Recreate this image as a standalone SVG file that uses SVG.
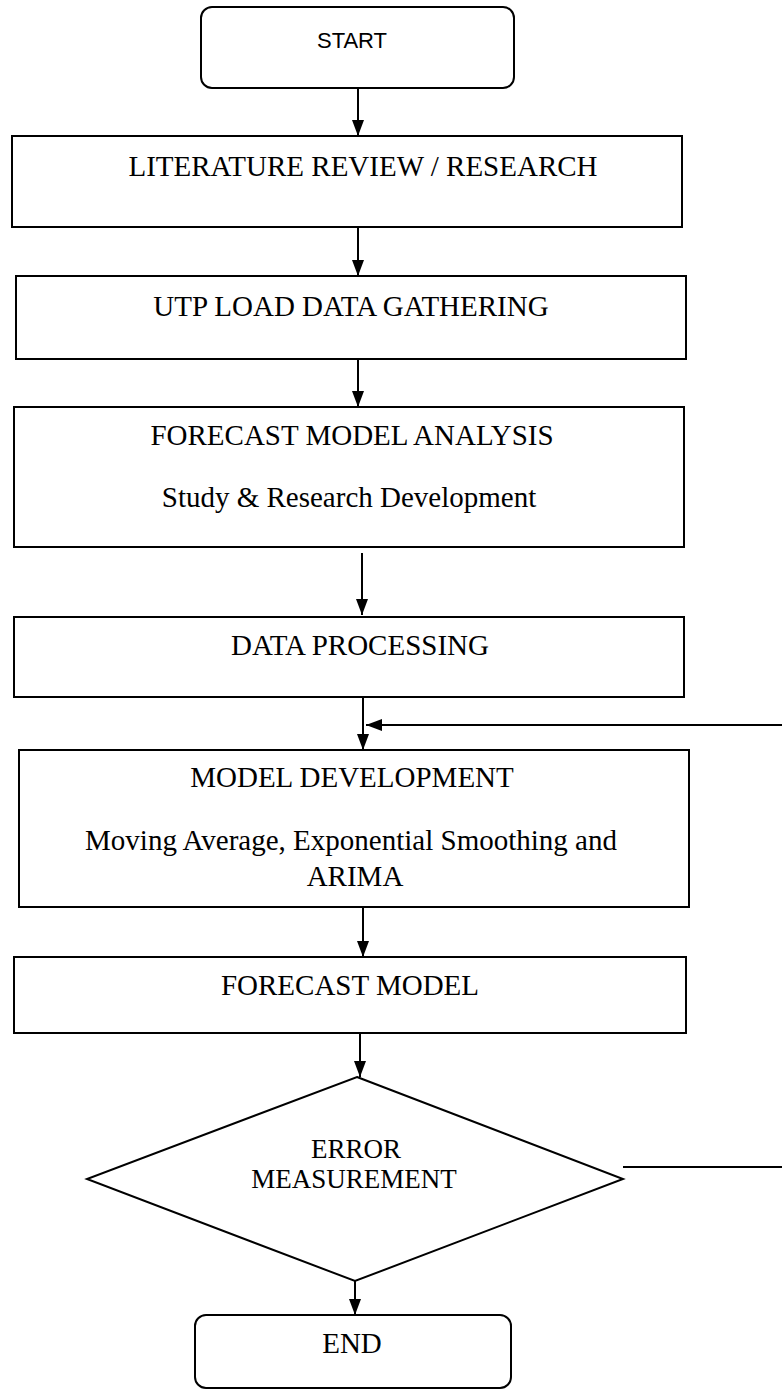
<svg xmlns="http://www.w3.org/2000/svg" width="782" height="1390" viewBox="0 0 782 1390">
<defs>
<style>
.box{fill:#fff;stroke:#000;stroke-width:2}
.t{font-family:"Liberation Serif","Times New Roman",serif;font-size:29px;fill:#000;text-anchor:middle}
.d{font-family:"Liberation Serif","Times New Roman",serif;font-size:27px;fill:#000;text-anchor:middle}
.s{font-family:"Liberation Sans",Arial,sans-serif;font-size:22px;fill:#000;text-anchor:middle}
.c{stroke:#000;stroke-width:2;fill:none}
</style>
<marker id="ah" markerUnits="userSpaceOnUse" markerWidth="16" markerHeight="12" viewBox="0 0 16 12" refX="16" refY="6" orient="auto">
<path d="M0,0 L16,6 L0,12 z" fill="#000"/>
</marker>
</defs>
<rect width="782" height="1390" fill="#fff"/>
<g id="connectors">
<line class="c" x1="358" y1="88" x2="358" y2="136" marker-end="url(#ah)"/>
<line class="c" x1="358" y1="227" x2="358" y2="276" marker-end="url(#ah)"/>
<line class="c" x1="358" y1="359" x2="358" y2="407" marker-end="url(#ah)"/>
<line class="c" x1="362" y1="553" x2="362" y2="615" marker-end="url(#ah)"/>
<line class="c" x1="363" y1="697" x2="363" y2="750" marker-end="url(#ah)"/>
<line class="c" x1="782" y1="725" x2="366" y2="725" marker-end="url(#ah)"/>
<line class="c" x1="363" y1="907" x2="363" y2="957" marker-end="url(#ah)"/>
<line class="c" x1="360" y1="1033" x2="360" y2="1077" marker-end="url(#ah)"/>
<line class="c" x1="355" y1="1281" x2="355" y2="1315" marker-end="url(#ah)"/>
<line class="c" x1="623" y1="1167" x2="782" y2="1167"/>
</g>
<g id="start">
<rect class="box" x="201" y="7" width="313" height="81" rx="11"/>
<text class="s" x="352" y="48">START</text>
</g>
<g id="literature">
<rect class="box" x="12" y="136" width="670" height="91"/>
<text class="t" x="363" y="176">LITERATURE REVIEW / RESEARCH</text>
</g>
<g id="utp">
<rect class="box" x="16" y="276" width="670" height="83"/>
<text class="t" x="351" y="316">UTP LOAD DATA GATHERING</text>
</g>
<g id="fma">
<rect class="box" x="14" y="407" width="670" height="140"/>
<text class="t" x="352" y="445">FORECAST MODEL ANALYSIS</text>
<text class="t" x="349" y="507">Study &amp; Research Development</text>
</g>
<g id="dp">
<rect class="box" x="14" y="617" width="670" height="80"/>
<text class="t" x="360" y="655">DATA PROCESSING</text>
</g>
<g id="md">
<rect class="box" x="19" y="750" width="670" height="157"/>
<text class="t" x="352" y="787">MODEL DEVELOPMENT</text>
<text class="t" x="351" y="850">Moving Average, Exponential Smoothing and</text>
<text class="t" x="355" y="886">ARIMA</text>
</g>
<g id="fm">
<rect class="box" x="14" y="957" width="672" height="76"/>
<text class="t" x="350" y="995">FORECAST MODEL</text>
</g>
<g id="err">
<polygon class="box" points="357,1077 623,1179 355,1281 87,1179"/>
<text class="d" x="356" y="1158">ERROR</text>
<text class="d" x="354" y="1188">MEASUREMENT</text>
</g>
<g id="end">
<rect class="box" x="195" y="1315" width="316" height="73" rx="11"/>
<text class="t" x="352" y="1353">END</text>
</g>
</svg>
